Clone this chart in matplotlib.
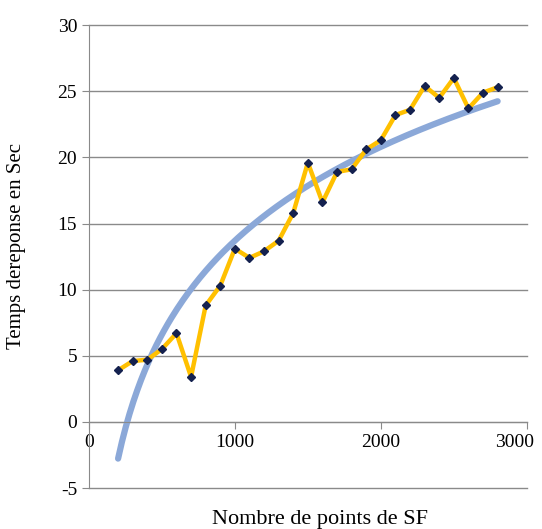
import numpy as np
import matplotlib
matplotlib.use("Agg")
import matplotlib.pyplot as plt
import matplotlib.transforms as mtransforms

# nombre de points SF et temps de réponse (sec)
nb_points = [200, 300, 400, 500, 600, 700, 800, 900, 1000, 1100, 1200, 1300, 1400,
             1500, 1600, 1700, 1800, 1900, 2000, 2100, 2200, 2300, 2400, 2500,
             2600, 2700, 2800]
temps = [3.9, 4.6, 4.7, 5.5, 6.7, 3.4, 8.8, 10.3, 13.1, 12.4, 12.9, 13.7, 15.8,
         19.6, 16.6, 18.9, 19.1, 20.6, 21.3, 23.2, 23.6, 25.4, 24.5, 26.0,
         23.7, 24.9, 25.3]
y_ticks = [-5, 0, 5, 10, 15, 20, 25, 30]
x_ticks = [0, 1000, 2000, 3000]

plt.rcParams['font.family'] = ['Liberation Serif', 'DejaVu Serif']
plt.rcParams['axes.unicode_minus'] = False

x = np.array(nb_points, dtype=float)
y = np.array(temps)
# courbe de tendance logarithmique
a, b = np.polyfit(np.log(x), y, 1)
xt = np.linspace(x.min(), x.max(), 200)
yt = a * np.log(xt) + b

fig = plt.figure(figsize=(5.42, 5.29), dpi=100)
ax = fig.add_axes([0.164, 0.0775, 0.808, 0.875])

ax.plot(x, y, color='#FFC000', lw=3.2, zorder=3)
ax.plot(x, y, ls='none', marker='D', ms=4.5, color='#14214F', zorder=4)
ax.plot(xt, yt, color='#8BA8D8', lw=4.5, solid_capstyle='round', zorder=2)

ax.set_xlim(0, 3000)
ax.set_ylim(-5, 30)
ax.set_yticks(y_ticks)
ax.set_xticks(x_ticks)
ax.yaxis.grid(True, color='#8a8a8a', lw=1)
for gl in ax.get_ygridlines():
    gl.set_clip_on(False)
ax.set_axisbelow(True)

for s in ['top', 'right']:
    ax.spines[s].set_visible(False)
ax.spines['bottom'].set_position(('data', 0))
ax.spines['bottom'].set_color('#8a8a8a')
ax.spines['left'].set_color('#8a8a8a')
ax.tick_params(axis='both', colors='#8a8a8a', labelcolor='black',
               labelsize=14, length=5, direction='out')

# décaler le dernier label pour qu'il reste dans l'image
fig.canvas.draw()
lbl = ax.get_xticklabels()[-1]
lbl.set_transform(lbl.get_transform() + mtransforms.ScaledTranslation(-9 / 72, 0, fig.dpi_scale_trans))

fig.text(0.591, 0.01, 'Nombre de points de SF', fontsize=16, ha='center', va='baseline')
ax.set_ylabel('Temps dereponse en Sec', fontsize=15)
ax.yaxis.set_label_coords(-0.144, 0.523)

fig.savefig('out.png', dpi=100)
